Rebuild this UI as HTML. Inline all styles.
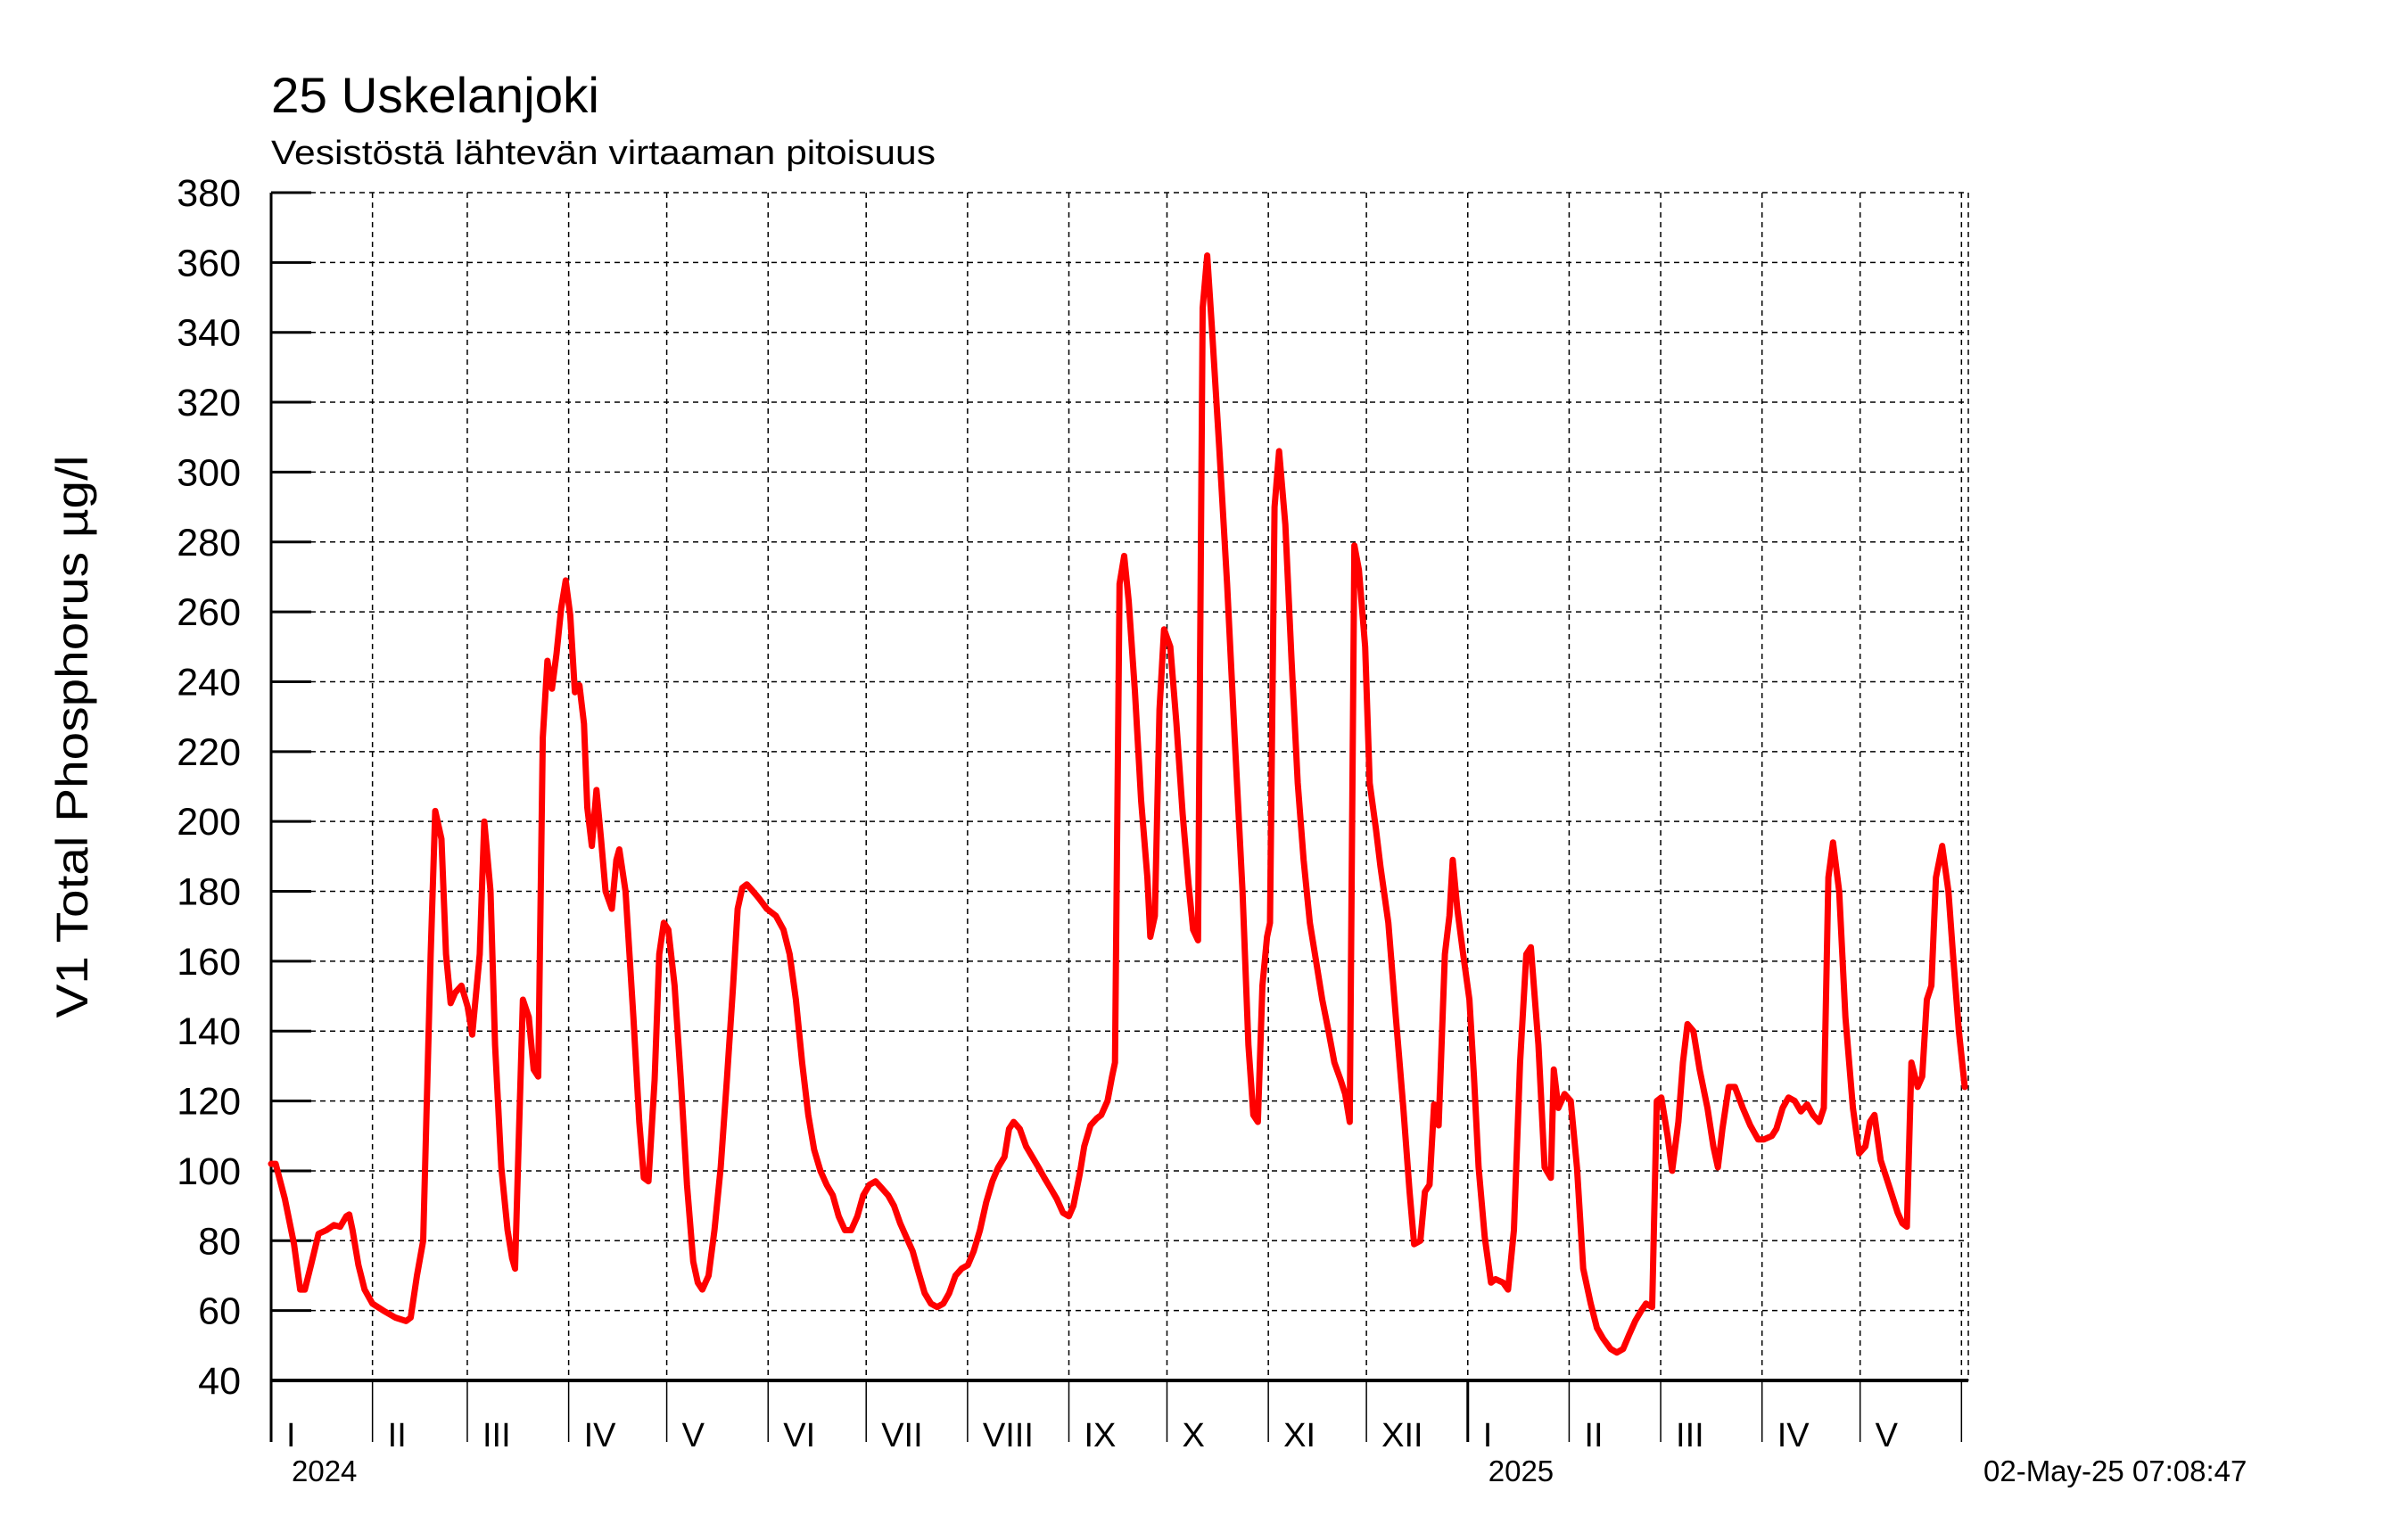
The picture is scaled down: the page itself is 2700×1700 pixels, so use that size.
<!DOCTYPE html>
<html><head><meta charset="utf-8"><style>
html,body{margin:0;padding:0;background:#fff;}
svg{display:block;font-family:"Liberation Sans",Arial,sans-serif;}
</style></head><body>
<svg id="chart" width="2700" height="1700" viewBox="0 0 2700 1700" xmlns="http://www.w3.org/2000/svg">
<text x="304" y="126" font-size="56" textLength="368" lengthAdjust="spacingAndGlyphs">25 Uskelanjoki</text>
<text x="304" y="184" font-size="38" textLength="745" lengthAdjust="spacingAndGlyphs">Vesistöstä lähtevän virtaaman pitoisuus</text>
<text transform="translate(98,826) rotate(-90)" text-anchor="middle" font-size="50" textLength="631" lengthAdjust="spacingAndGlyphs">V1 Total Phosphorus µg/l</text>
<text x="2224" y="1661" font-size="33">02-May-25 07:08:47</text>
<g id="grid"></g>
<g id="axes"></g>
<g id="series"></g>
</svg>
<script>
const yTicks = [40,60,80,100,120,140,160,180,200,220,240,260,280,300,320,340,360,380];
const monthLabels = ["I","II","III","IV","V","VI","VII","VIII","IX","X","XI","XII","I","II","III","IV","V"];
const monthStarts = [0,31,60,91,121,152,182,213,244,274,305,335,366,397,425,456,486,517];
const yearLabels = ["2024","2025"];
const yearStarts = [0,366];
const days = [0,1.4,4.2,7.0,8.9,10.3,12.2,14.5,16.9,19.2,21.1,23.0,23.9,24.9,26.7,28.6,31.0,34.3,38.0,41.3,42.7,44.6,46.5,48.8,50.2,52.1,53.5,54.9,56.3,58.2,60.1,61.5,63.8,65.2,67.1,68.5,70.4,72.3,73.7,74.6,75.6,77.0,78.8,80.3,81.7,83.1,84.5,85.9,87.3,88.7,90.1,91.5,92.9,94.3,95.7,96.7,98.1,99.5,100.9,102.3,104.2,105.6,106.5,108.4,110.8,112.6,114.0,115.4,117.3,118.7,120.1,121.5,123.4,125.3,127.2,129.1,130.5,131.9,133.8,135.6,137.5,139.4,141.3,142.7,144.1,145.5,147.4,149.2,151.6,154.4,156.7,158.6,160.5,162.4,164.3,166.1,168.0,169.9,171.8,173.6,175.5,177.4,179.3,181.1,183.0,184.9,186.8,188.7,190.5,192.4,194.3,196.2,198.0,199.9,201.8,203.7,205.6,207.4,209.3,211.2,213.1,214.9,216.8,218.7,220.6,222.4,224.3,225.7,227.1,229.0,230.9,232.8,234.7,236.5,238.4,240.3,242.2,244.0,245.4,247.3,248.7,250.6,252.5,253.9,255.8,257.2,258.1,259.5,260.9,262.3,264.2,266.1,268.0,268.9,270.3,271.7,273.1,275.0,276.9,278.8,280.6,282.0,283.5,284.9,286.3,287.7,290.0,292.4,294.7,297.1,298.9,300.4,301.8,303.2,304.6,305.5,306.9,308.3,310.2,312.1,314.0,315.8,317.7,319.6,321.5,323.4,325.2,327.1,328.5,329.9,331.3,332.7,334.6,336.0,337.9,339.3,341.7,344.0,346.3,348.2,349.6,351.5,352.9,354.3,355.7,357.1,359.0,360.4,361.4,362.8,364.6,366.5,367.9,369.3,371.2,373.1,374.5,376.8,378.3,380.1,382.0,383.9,385.3,387.6,389.5,391.4,392.3,393.7,395.6,397.5,399.4,401.3,403.6,405.5,407.4,409.7,411.6,413.5,415.3,417.2,419.1,420.5,422.4,423.8,425.2,427.1,428.5,430.4,431.8,433.2,435.0,436.9,439.3,441.1,442.5,443.9,445.8,447.7,450.1,452.4,454.8,456.6,459.0,460.4,462.3,464.1,466.0,467.9,469.8,471.6,473.5,474.9,476.3,477.7,479.6,481.5,483.8,485.7,487.6,489.0,490.4,492.3,495.1,497.5,498.9,500.3,501.7,503.6,505.0,506.4,507.8,509.2,511.1,513.0,514.4,516.2,518.0];
const values = [102,102,92,79,66,66,73,82,83,84.5,84,87,87.5,83,73,66,62,60,58,57,58,70,80,162,203,195,162,148,151,153,147,139,162,200,180,136,101,83,75,72,105,149,144,129,127,224,246,238,248,261,269,259,237,239,228,204,193,209,195,180,175,189,192,180,144,114,98,97,126,162,171,169,153,126,96,74,68,66,70,83,101,126,153,175,181,182,180,178,175,173,169,162,149,131,116,106,100,96,93,87,83,83,87,93,96,97,95,93,90,85,81,77,71,65,62,61,62,65,70,72,73,77,83,91,97,101,104,112,114,112,107,104,101,98,95,92,88,87,90,99,107,113,115,116,120,127,131,268,276,263,237,206,184,167,173,232,255,250,228,202,182,169,166,347,362,342,307,268,224,180,136,116,114,153,167,171,290,306,285,246,211,189,171,160,149,140,131,126,122,114,279,272,250,211,198,187,171,144,118,94,79,80,94,96,119,113,162,173,189,175,162,149,127,101,81,68,69,68,66,83,131,162,164,136,101,98,129,118,122,120,101,72,62,55,52,49,48,49,53,57,60,62,61,120,121,110,100,114,131,142,140,129,118,107,101,112,124,124,118,113,109,109,110,112,118,121,120,117,119,116,114,118,184,194,180,144,118,105,107,114,116,103,95,88,85,84,131,124,127,149,153,184,193,180,162,140,124,120];

const NS = "http://www.w3.org/2000/svg";
const X0 = 304, X1 = 2203, Y0 = 1548, Y1 = 216, DMAX = 518, VMIN = 40, VMAX = 380;
function xScale(d){ return X0 + d * (X1 - X0) / DMAX; }
function yScale(v){ return Y0 - (v - VMIN) * (Y0 - Y1) / (VMAX - VMIN); }
function mk(tag, attrs, parent){ const e = document.createElementNS(NS, tag); for (const k in attrs) e.setAttribute(k, attrs[k]); parent.appendChild(e); return e; }
const grid = document.getElementById('grid'), axes = document.getElementById('axes'), series = document.getElementById('series');

yTicks.forEach(function(v){
  const y = yScale(v);
  if (v > VMIN) {
    const g = mk('line', {x1: X0, x2: X1 + 4, y1: y, y2: y, stroke: '#000', 'stroke-width': 1.5, 'stroke-dasharray': '6,5'}, grid);
    
    
  }
  const t = mk('line', {x1: X0, x2: X0 + 45, y1: y, y2: y, stroke: '#000', 'stroke-width': 3}, axes);
  
  
  const lb = mk('text', {x: 270, y: y + 15, 'text-anchor': 'end', 'font-size': 43}, axes);
  lb.textContent = v;
  
  
});

monthStarts.forEach(function(d, i){
  const x = xScale(d);
  if (d > 0) {
    const g = mk('line', {x1: x, x2: x, y1: Y1, y2: Y0, stroke: '#000', 'stroke-width': 1.5, 'stroke-dasharray': '6,5'}, grid);
    
    
  }
  const isYear = yearStarts.indexOf(d) >= 0;
  const t = mk('line', {x1: x, x2: x, y1: Y0, y2: 1617, stroke: '#000', 'stroke-width': isYear ? 3 : 1.5}, axes);
  
  
  if (i < monthLabels.length) {
    const lb = mk('text', {x: x + 17, y: 1622, 'font-size': 38}, axes);
    lb.textContent = monthLabels[i];
    
    
  }
});
const endLine = mk('line', {x1: X1 + 4, x2: X1 + 4, y1: Y1, y2: Y0, stroke: '#000', 'stroke-width': 1.5, 'stroke-dasharray': '6,5'}, grid);



yearStarts.forEach(function(d, i){
  const lb = mk('text', {x: xScale(d) + 23, y: 1661, 'font-size': 33}, axes);
  lb.textContent = yearLabels[i];
  
  
});

const ya = mk('line', {x1: X0, x2: X0, y1: Y1, y2: 1617, stroke: '#000', 'stroke-width': 3}, axes);


const xa = mk('line', {x1: X0, x2: X1 + 4, y1: Y0, y2: Y0, stroke: '#000', 'stroke-width': 4}, axes);



const pts = days.map(function(d, i){ return xScale(d).toFixed(1) + ',' + yScale(values[i]).toFixed(1); }).join(' ');
const line = mk('polyline', {points: pts, fill: 'none', stroke: '#ff0000', 'stroke-width': 7, 'stroke-linejoin': 'round', 'stroke-linecap': 'round'}, series);


</script>
</body></html>
